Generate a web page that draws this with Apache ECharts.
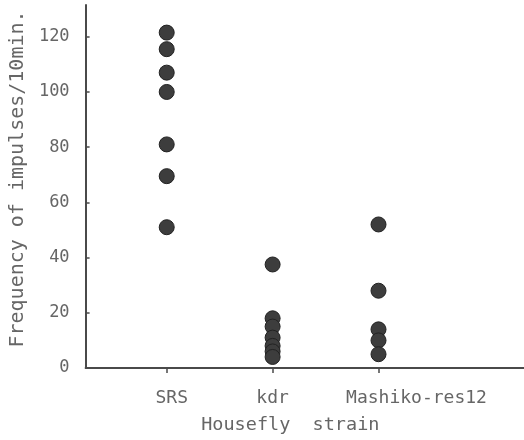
<!DOCTYPE html>
<html>
<head>
<meta charset="utf-8">
<script src="https://cdn.jsdelivr.net/npm/echarts@6/dist/echarts.min.js"></script>
<style>html,body{margin:0;padding:0;background:#fff}#c{width:524px;height:440px}</style>
</head>
<body>
<div id="c"></div>
<script>
const categories = ['SRS', 'kdr', 'Mashiko-res12'];
const srsValues = [121.5, 115.5, 107, 100, 81, 69.5, 51];
const kdrValues = [37.5, 18, 15, 11, 8, 6, 4];
const mashikoValues = [52, 28, 14, 10, 5];
const yTicks = [0, 20, 40, 60, 80, 100, 120];
const yTitle = 'Frequency of impulses/10min.';
const xTitle = 'Housefly  strain';

const groups = [srsValues, kdrValues, mashikoValues];
const points = [];
groups.forEach((vals, i) => vals.forEach(v => points.push([i + 1, v])));

const font = 'DejaVu Sans Mono';
const labelStyles = ['s', 'k', 'm'];
const chart = echarts.init(document.getElementById('c'), null, {renderer: 'canvas'});
chart.setOption({
  animation: false,
  backgroundColor: '#fff',
  grid: {left: 81, top: 5, right: 0, bottom: 66, containLabel: false},
  xAxis: {
    type: 'value', min: 0.234, max: 4.374,
    splitLine: {show: false},
    axisLine: {show: true, onZero: false, lineStyle: {color: '#4a4a4a', width: 2}},
    axisTick: {show: true, customValues: [1, 2, 3], length: 5, lineStyle: {color: '#4a4a4a', width: 1.5}},
    axisLabel: {
      customValues: [1, 2, 3],
      formatter: v => {
        const i = Math.round(v) - 1;
        return '{' + labelStyles[i] + '|' + categories[i] + '}';
      },
      rich: {
        s: {fontFamily: font, fontSize: 18, color: '#666', padding: [0, 0, 0, 10]},
        k: {fontFamily: font, fontSize: 18, color: '#666'},
        m: {fontFamily: font, fontSize: 18, color: '#666', padding: [0, 0, 0, 76]}
      },
      fontFamily: font, fontSize: 18, color: '#666', margin: 21
    },
    name: xTitle, nameLocation: 'middle', nameGap: 48,
    nameTextStyle: {fontFamily: font, fontSize: 18.5, color: '#666', padding: [0, 29, 0, 0]}
  },
  yAxis: {
    type: 'value', min: 0, max: 131.5,
    splitLine: {show: false},
    axisLine: {show: true, lineStyle: {color: '#4a4a4a', width: 2}},
    axisTick: {show: true, inside: true, length: 4, customValues: yTicks, lineStyle: {color: '#4a4a4a', width: 1.5}},
    axisLabel: {fontFamily: font, fontSize: 17, color: '#666', margin: 16, customValues: yTicks},
    name: yTitle, nameLocation: 'middle', nameGap: 55, nameRotate: 90,
    nameTextStyle: {fontFamily: font, fontSize: 20, color: '#666', padding: [0, 0, 0, 15]}
  },
  series: [{
    type: 'scatter',
    data: points,
    symbol: 'circle',
    symbolSize: 15,
    itemStyle: {color: '#3d3d3d', borderColor: '#222', borderWidth: 1, opacity: 1}
  }]
});
</script>
</body>
</html>
